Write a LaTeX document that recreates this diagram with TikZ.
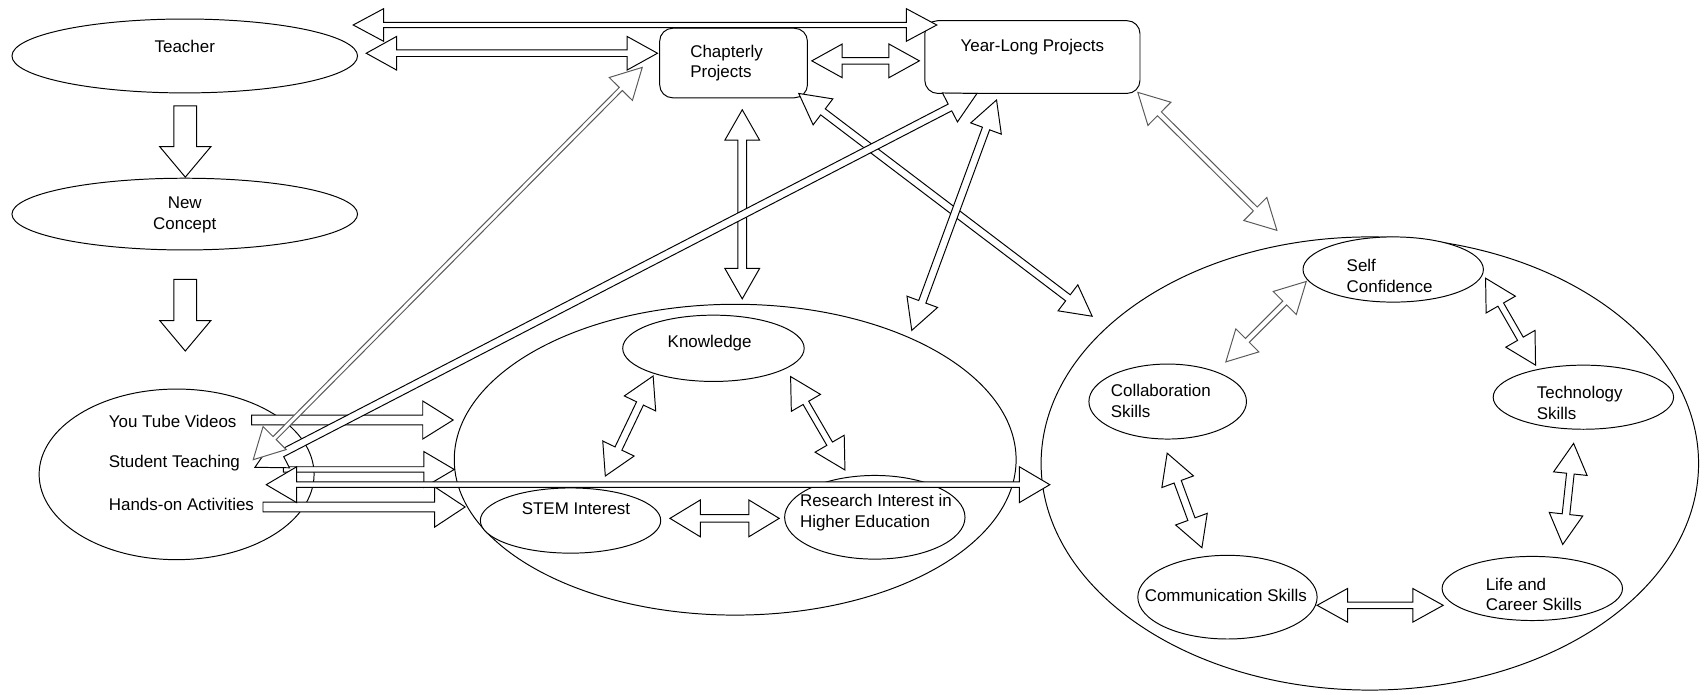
\documentclass[tikz,border=0pt]{standalone}
\usepackage{fontspec}
\setmainfont{Liberation Sans}
\usetikzlibrary{shapes.geometric,calc}

% block arrow, head at the second end: [style]{from}{to}{half shaft}{half head}
\newcommand{\flexarrow}[5][]{%
  \coordinate (fa-c) at ($(#3)!28pt!(#2)$);
  \draw[flex,#1] ($(#2)!#4pt!90:(#3)$) -- ($(fa-c)!#4pt!90:(#3)$) -- ($(fa-c)!#5pt!90:(#3)$) -- (#3)
    -- ($(fa-c)!#5pt!-90:(#3)$) -- ($(fa-c)!#4pt!-90:(#3)$) -- ($(#2)!#4pt!-90:(#3)$) -- cycle;}
% block arrow with a head at both ends
\newcommand{\flexboth}[5][]{%
  \coordinate (fa-a) at ($(#2)!28pt!(#3)$);
  \coordinate (fa-b) at ($(#3)!28pt!(#2)$);
  \draw[flex,#1] (#2) -- ($(fa-a)!#5pt!90:(#3)$) -- ($(fa-a)!#4pt!90:(#3)$) -- ($(fa-b)!#4pt!90:(#3)$)
    -- ($(fa-b)!#5pt!90:(#3)$) -- (#3) -- ($(fa-b)!#5pt!-90:(#3)$) -- ($(fa-b)!#4pt!-90:(#3)$)
    -- ($(fa-a)!#4pt!-90:(#3)$) -- ($(fa-a)!#5pt!-90:(#3)$) -- cycle;}

\begin{document}
\begin{tikzpicture}[x=1pt, y=-1pt,
  bubble/.style={ellipse, draw, fill=white, line width=0.9pt, inner sep=0pt},
  card/.style={rectangle, rounded corners=12pt, draw, fill=white, line width=0.9pt, inner sep=0pt},
  flex/.style={draw, fill=white, line width=0.9pt, line join=miter},
  thin/.style={draw=black!65},
  txt/.style={inner sep=0pt, align=left, font=\fontsize{15.6}{19}\selectfont}]
  \useasboundingbox (0,0) rectangle (1568,639);
  % Left column
  \node[bubble, minimum width=318pt, minimum height=68pt] (teacher) at (170,51.5) {};
  \node[bubble, minimum width=318pt, minimum height=66pt] (newcon) at (170,197) {};
  \node[bubble, minimum width=253pt, minimum height=157pt] (act) at (162.5,436.5) {};
  % Projects
  \node[card, minimum width=136pt, minimum height=64pt] (chap) at (675,58) {};
  \node[card, minimum width=198pt, minimum height=67pt] (year) at (950,52.5) {};
  % Middle group
  \node[bubble, minimum width=517pt, minimum height=286pt] (mid) at (676.5,423) {};
  \node[bubble, minimum width=167pt, minimum height=61pt] (know) at (656.5,320.5) {};
  \node[bubble, minimum width=166pt, minimum height=60pt] (stem) at (525,479) {};
  \node[bubble, minimum width=166pt, minimum height=77pt] (res) at (805,476) {};
  % Skills group
  \node[bubble, minimum width=605pt, minimum height=417pt] (outer) at (1260.5,426.5) {};
  \node[bubble, minimum width=166pt, minimum height=60pt] (self) at (1282,248) {};
  \node[bubble, minimum width=145pt, minimum height=69pt] (collab) at (1074.5,369.5) {};
  \node[bubble, minimum width=166pt, minimum height=59pt] (tech) at (1457,365.5) {};
  \node[bubble, minimum width=165pt, minimum height=77pt] (comm) at (1129.5,549.5) {};
  \node[bubble, minimum width=166pt, minimum height=59pt] (life) at (1410,541.5) {};

  % Arrow ends
  \coordinate (teacher-s) at (170.5,97.5);
  \coordinate (newcon-n) at (170.5,163);
  \coordinate (newcon-s) at (170.5,257);
  \coordinate (act-n) at (170.5,323);
  \coordinate (teacher-ne) at (325,23);
  \coordinate (year-nw) at (862,23);
  \coordinate (teacher-e) at (337,49);
  \coordinate (chap-w) at (605,49);
  \coordinate (chap-e) at (747,56);
  \coordinate (year-w) at (846,56);
  \coordinate (chap-s) at (683,101);
  \coordinate (mid-n) at (683,275);
  \coordinate (chap-se) at (735,86);
  \coordinate (outer-nw) at (1005,291);
  \coordinate (year-s) at (917,92);
  \coordinate (mid-ne) at (839,304);
  \coordinate (year-se) at (1047,85);
  \coordinate (outer-n) at (1175,212);
  \coordinate (year-sw) at (899,86);
  \coordinate (st-a) at (234.6,430);
  \coordinate (chap-sw) at (591,62);
  \coordinate (st-b) at (233,423);
  \coordinate (yt-e) at (231.6,386.5);
  \coordinate (mid-w1) at (417,386.5);
  \coordinate (st-e) at (260.7,432);
  \coordinate (mid-w2) at (418,432);
  \coordinate (ho-e) at (242,466.5);
  \coordinate (mid-w3) at (428,466.5);
  \coordinate (st-c) at (245,446);
  \coordinate (outer-w) at (966,446);
  \coordinate (know-sw) at (601,346);
  \coordinate (stem-n) at (557,438);
  \coordinate (know-se) at (727.5,346.5);
  \coordinate (res-n) at (777.5,432.5);
  \coordinate (stem-e) at (616.5,477);
  \coordinate (res-w) at (717,477);
  \coordinate (self-sw) at (1202,259);
  \coordinate (collab-ne) at (1128,333);
  \coordinate (self-se) at (1367,256);
  \coordinate (tech-nw) at (1413,336);
  \coordinate (collab-s) at (1074,417);
  \coordinate (comm-n) at (1106,504);
  \coordinate (tech-s) at (1448,408);
  \coordinate (life-n) at (1438,501);
  \coordinate (comm-e) at (1212,557);
  \coordinate (life-w) at (1328,557);

  % Left column arrows
  \flexarrow{teacher-s}{newcon-n}{10.5}{23.5}
  \flexarrow{newcon-s}{act-n}{10.5}{23.5}
  % Top arrows
  \flexboth{teacher-ne}{year-nw}{2.5}{15}
  \flexboth{teacher-e}{chap-w}{3}{15.5}
  \flexboth{chap-e}{year-w}{3}{15.5}
  \flexboth{chap-s}{mid-n}{4}{16}
  \flexboth{chap-se}{outer-nw}{3.5}{15}
  \flexboth{year-s}{mid-ne}{3.5}{15}
  \flexboth[thin]{year-se}{outer-n}{2.5}{15}
  % Activities to the middle group
  \flexarrow{yt-e}{mid-w1}{4.5}{17.5}
  \flexarrow{st-e}{mid-w2}{2.5}{16.5}
  \flexarrow{ho-e}{mid-w3}{4.5}{18.5}
  \flexboth{st-c}{outer-w}{2.5}{16.5}
  % Middle group
  \flexboth{know-sw}{stem-n}{3.5}{16}
  \flexboth{know-se}{res-n}{3}{15.5}
  \flexboth{stem-e}{res-w}{3.5}{17}
  % Skills group
  \flexboth[thin]{self-sw}{collab-ne}{2.5}{15}
  \flexboth{self-se}{tech-nw}{3}{15.5}
  \flexboth{collab-s}{comm-n}{3.5}{15.5}
  \flexboth{tech-s}{life-n}{3.5}{15.5}
  \flexboth{comm-e}{life-w}{3}{15.5}
  % Long arrows back to Student Teaching
  \flexboth{year-sw}{st-a}{3.5}{15}
  \flexboth[thin]{chap-sw}{st-b}{2}{15}

  % Texts
  \node[txt] (teacher-t) at (170,43) {Teacher};
  \node[txt, align=center] (newcon-t) at (170,198) {New\\Concept};
  \node[txt, anchor=west] (chap-t) at (635,58) {Chapterly\\Projects};
  \node[txt] (year-t) at (950,43) {Year-Long Projects};
  \node[txt, anchor=west] (yt) at (100,388) {You Tube Videos};
  \node[txt, anchor=west] (st) at (100,426) {Student Teaching};
  \node[txt, anchor=west] (ho) at (100,464) {Hands-on Activities};
  \node[txt] (know-t) at (653,316) {Knowledge};
  \node[txt] (stem-t) at (530,468) {STEM Interest};
  \node[txt, anchor=west] (res-t) at (736,471.5) {Research Interest in\\Higher Education};
  \node[txt, anchor=west] (self-t) at (1239,254) {Self\\Confidence};
  \node[txt, anchor=west] (collab-t) at (1022,369) {Collaboration\\Skills};
  \node[txt, anchor=west] (tech-t) at (1414,371) {Technology\\Skills};
  \node[txt] (comm-t) at (1128,548) {Communication Skills};
  \node[txt, anchor=west] (life-t) at (1367,547) {Life and\\Career Skills};
\end{tikzpicture}
\end{document}
